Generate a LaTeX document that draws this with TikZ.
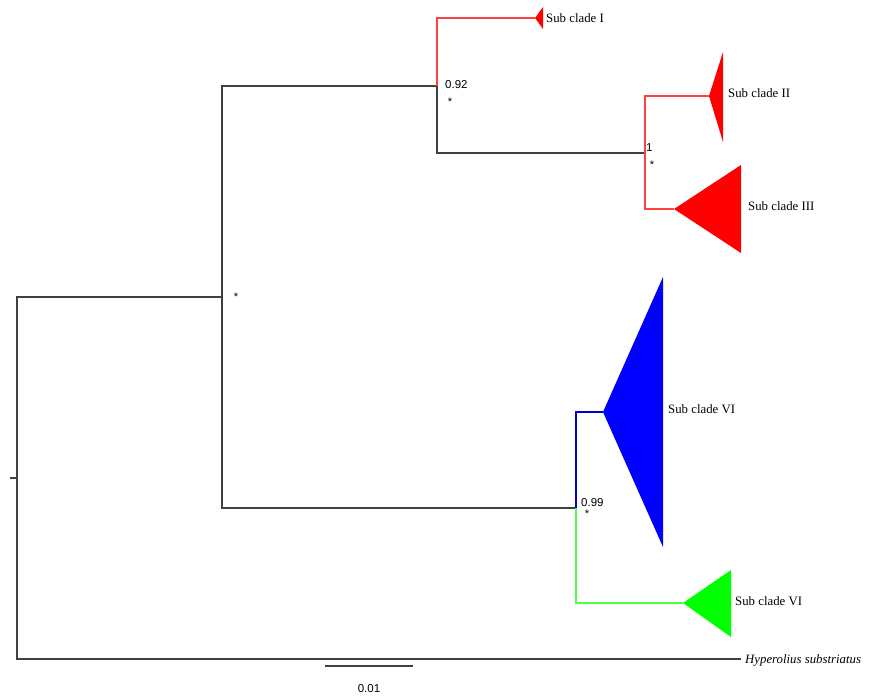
\documentclass[tikz,border=0pt]{standalone}
\usepackage{fontspec}
\setmainfont{Liberation Serif}
\setsansfont{Liberation Sans}
\begin{document}
\begin{tikzpicture}[x=1pt,y=-1pt,
    branch/.style={line width=1.1pt, black!75},
    support/.style={font=\sffamily\fontsize{11.5}{11.5}\selectfont, inner sep=0pt, anchor=west},
    star/.style={font=\sffamily\fontsize{11}{11}\selectfont, inner sep=0pt},
    cladelabel/.style={font=\fontsize{12.8}{12.8}\selectfont, inner sep=0pt, anchor=west}]
    \useasboundingbox (0,0) rectangle (869,696);
    % Internal nodes
    \coordinate (root) at (17,478);
    \coordinate (n1) at (222,297);
    \coordinate (n2) at (437,86);
    \coordinate (n3) at (645,153);
    \coordinate (n4) at (576,508);
    % Clade tips
    \coordinate (c1) at (535,18);
    \coordinate (c2) at (709,96);
    \coordinate (c3) at (674,209);
    \coordinate (c6) at (603,412);
    \coordinate (c7) at (683,603);
    \coordinate (out) at (741,659);
    % Branches
    \draw[branch] (root) -- ++(-7,0);
    \draw[branch] (root) |- (n1);
    \draw[branch] (root) |- (out);
    \draw[branch] (n1) |- (n2);
    \draw[branch] (n1) |- (n4);
    \draw[branch] (n2) |- (n3);
    \draw[branch, red!75] (n2) |- (c1);
    \draw[branch, red!75] (n3) |- (c2);
    \draw[branch, red!75] (n3) |- (c3);
    \draw[branch, blue!80!black] (n4) |- (c6);
    \draw[branch, green!70!white] (n4) |- (c7);
    % Collapsed clades
    \fill[red] (c1) -- (543,7) -- (543,29) -- cycle;
    \fill[red] (c2) -- (723,52) -- (723,142) -- cycle;
    \fill[red] (c3) -- (741,165) -- (741,253) -- cycle;
    \fill[blue] (c6) -- (663,277) -- (663,547) -- cycle;
    \fill[green] (c7) -- (731,570) -- (731,637) -- cycle;
    % Labels
    \node[cladelabel] (l1) at (546,18) {Sub clade I};
    \node[cladelabel] (l2) at (728,93) {Sub clade II};
    \node[cladelabel] (l3) at (748,206) {Sub clade III};
    \node[cladelabel] (l6) at (668,409) {Sub clade VI};
    \node[cladelabel] (l7) at (735,601) {Sub clade VI};
    \node[cladelabel] (lout) at (745,660) {\itshape Hyperolius substriatus};
    % Support values
    \node[support] (s2) at (445,85) {0.92};
    \node[support] (s3) at (646,148) {1};
    \node[support] (s4) at (581,503) {0.99};
    \node[star] (a1) at (236,297) {*};
    \node[star] (a2) at (450,102) {*};
    \node[star] (a3) at (652,165) {*};
    \node[star] (a4) at (587,514) {*};
    % Scale bar
    \coordinate (sb1) at (325,666);
    \coordinate (sb2) at (413,666);
    \draw[branch] (sb1) -- (sb2);
    \node[support, anchor=center] (sbl) at (369,689) {0.01};
\end{tikzpicture}
\end{document}
